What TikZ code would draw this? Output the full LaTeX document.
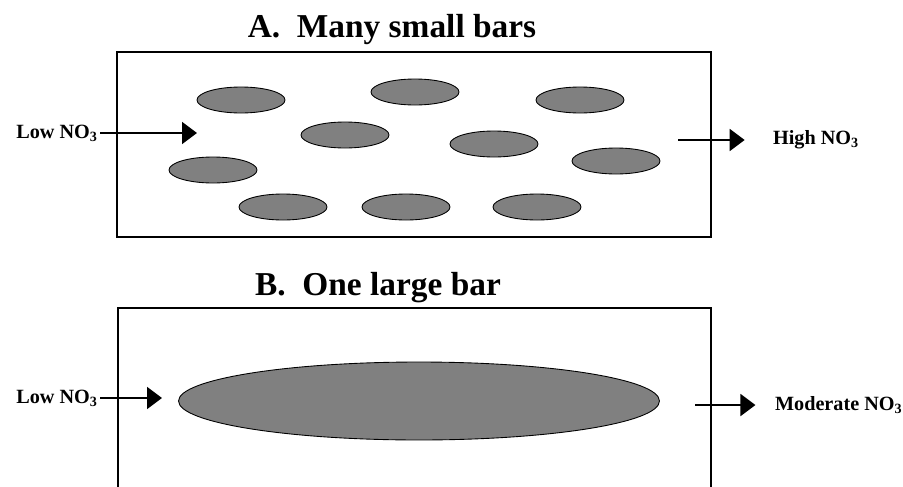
\documentclass[tikz,border=0pt]{standalone}
\usepackage{fontspec}
\setmainfont{Liberation Serif}
\usetikzlibrary{arrows.meta,positioning,shapes.geometric}

\begin{document}
\begin{tikzpicture}[
  x=0.02cm,y=-0.02cm,
  title/.style={font=\bfseries\fontsize{19}{22}\selectfont,anchor=base,inner sep=0pt},
  lbl/.style={font=\bfseries\fontsize{11.5}{13}\selectfont,inner sep=1pt},
  tank/.style={draw,line width=1.2pt},
  bar/.style={ellipse,draw,line width=0.5pt,fill=black!50,minimum width=1.76cm,minimum height=0.52cm,inner sep=0pt},
  bigbar/.style={bar,minimum width=9.62cm,minimum height=1.56cm},
  arr/.style={-{Triangle[length=3mm,width=4.4mm]},line width=1.1pt}
]
\useasboundingbox (0,0) rectangle (903,487);

\node[title] (titleA) at (392,37) {A.\ \ Many small bars};
\draw[tank] (117,52) rectangle (711,237);
\foreach \x/\y [count=\i] in {241/100,415/92,580/100,345/135,494/144,616/161,213/170,283/207,406/207,537/207}
  \node[bar] (barA\i) at (\x,\y) {};

\node[lbl,anchor=east] (lowA) at (100,133) {Low NO\textsubscript{3}};
\coordinate (inA) at (197,133);
\draw[arr] (lowA.east) -- (inA);
\coordinate (outA) at (678,140);
\node[lbl,anchor=west] (highA) at (771,140) {High NO\textsubscript{3}};
\draw[arr] (outA) -- ([xshift=-15]highA.west);

\node[title] (titleB) at (378,295) {B.\ \ One large bar};
\draw[tank] (118,487) |- (711,308) -- (711,487);
\node[bigbar] (barB) at (419,401) {};

\node[lbl,anchor=east] (lowB) at (100,398) {Low NO\textsubscript{3}};
\coordinate (inB) at (162,398);
\draw[arr] (lowB.east) -- (inB);
\coordinate (outB) at (695,405);
\node[lbl,anchor=west] (modB) at (773,405) {Moderate NO\textsubscript{3}};
\draw[arr] (outB) -- ([xshift=-10]modB.west);
\end{tikzpicture}
\end{document}
